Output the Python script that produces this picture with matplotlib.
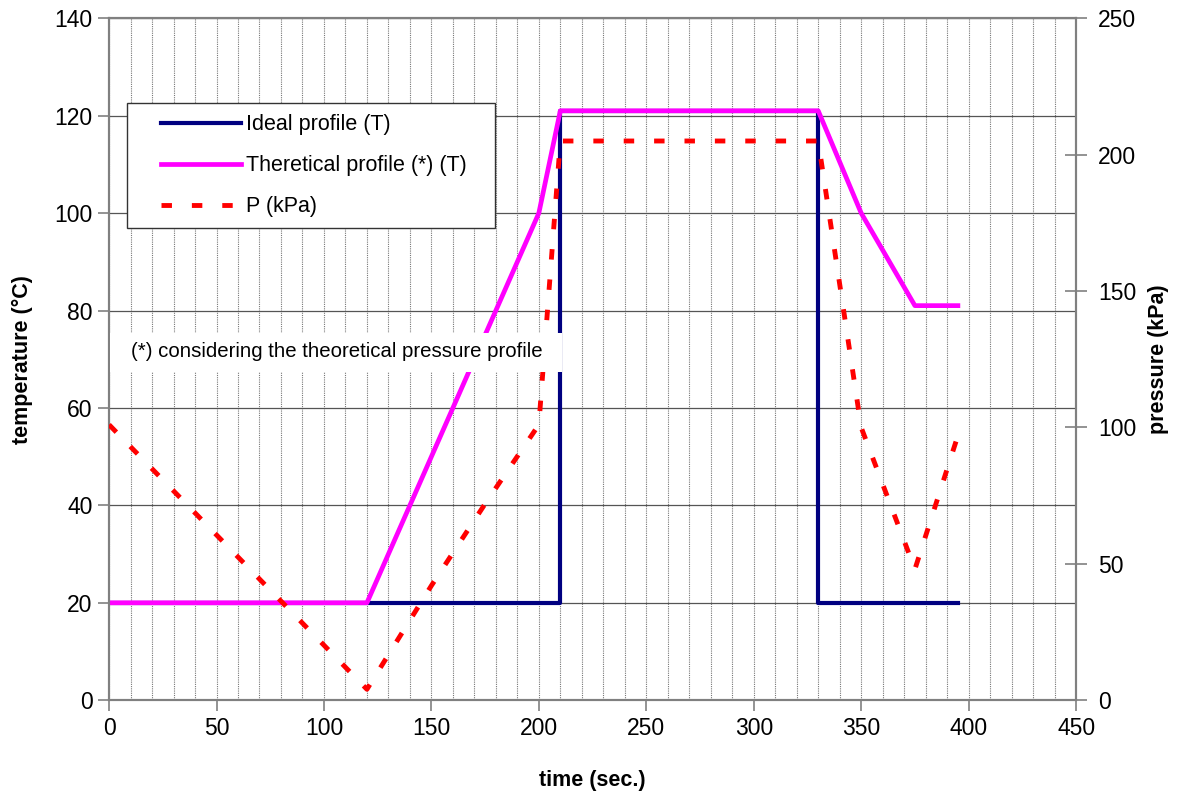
import matplotlib
matplotlib.use('Agg')
import matplotlib.pyplot as plt
from matplotlib.patches import Rectangle
from matplotlib.lines import Line2D
from matplotlib.legend_handler import HandlerLine2D

plt.rcParams['font.family'] = ['Liberation Sans', 'DejaVu Sans']

# ideal temperature profile (T)
ideal_time = [0, 210, 210, 330, 330, 395]
ideal_temp = [20, 20, 121, 121, 20, 20]

# theoretical temperature profile (T)
theo_time = [0, 120, 200, 210, 330, 350, 375, 395]
theo_temp = [20, 20, 100, 121, 121, 100, 81, 81]

# pressure (kPa), right axis
p_time = [0, 120, 150, 175, 200, 210, 330, 350, 375, 395]
p_kpa = [101, 4, 42, 72, 101, 205, 205, 100, 48, 97]

labels = ['Ideal profile (T)', 'Theretical profile (*) (T)', 'P (kPa)']
note = '(*) considering the theoretical pressure profile'

fig = plt.figure(figsize=(11.79, 7.93), dpi=100)
ax = fig.add_axes([0.0925, 0.117, 0.8202, 0.860])
ax2 = ax.twinx()

l1, = ax.plot(ideal_time, ideal_temp, color='#000080', lw=3.0, zorder=3)
l2, = ax.plot(theo_time, theo_temp, color='#FF00FF', lw=3.4, zorder=4)
l3, = ax2.plot(p_time, p_kpa, color='#FF0000', lw=3.5, dashes=(2.15, 4.1), zorder=3)

ax.set_xlim(0, 450)
ax.set_ylim(0, 140)
ax2.set_ylim(0, 250)
ax.set_xticks(range(0, 451, 50))
ax.set_xticks(range(0, 451, 10), minor=True)
ax.set_yticks(range(0, 141, 20))
ax2.set_yticks(range(0, 251, 50))

ax.grid(axis='y', which='major', color='#555555', lw=0.9, ls='-')
ax.grid(axis='x', which='both', color='#777777', lw=0.8, ls=(0, (1, 1)))
ax.set_axisbelow(True)

for a in (ax, ax2):
    for s in a.spines.values():
        s.set_color('#808080')
        s.set_linewidth(1.5)

ax.tick_params(axis='both', which='major', labelsize=16.5, color='#808080',
               width=1.2, length=8, direction='out', pad=4)
ax.tick_params(axis='x', which='minor', length=0)
ax2.tick_params(axis='y', labelsize=16.5, color='#808080', width=1.2,
                length=16, direction='inout', pad=8)

ax.set_xlabel('time (sec.)', fontsize=15.5, fontweight='bold', labelpad=22)
ax.set_ylabel('temperature (°C)', fontsize=15.5, fontweight='bold', labelpad=15)
ax2.set_ylabel('pressure (kPa)', fontsize=15.5, fontweight='bold', labelpad=8)

# white box with the footnote
ax2.add_patch(Rectangle((0.5, 67.4), 210.5, 8.0, transform=ax.transData,
                        facecolor='white', edgecolor='none', zorder=10))
ax2.text(10.2, 71.5, note, transform=ax.transData, fontsize=14.7,
         va='center', ha='left', zorder=11)

leg = ax2.legend([l1, l2, l3], labels, loc='upper left', mode='expand',
                 bbox_to_anchor=(0.0187, 0.5, 0.3807, 0.375), fontsize=15.5,
                 handlelength=4.8, handletextpad=0.2, labelspacing=0.93,
                 borderpad=0.5, borderaxespad=0, fancybox=False,
                 framealpha=1, edgecolor='#333333',
                 handler_map={Line2D: HandlerLine2D(xpad=1.05)})
leg.get_frame().set_linewidth(1.0)
leg.set_zorder(12)

fig.savefig('out.png', dpi=100)
